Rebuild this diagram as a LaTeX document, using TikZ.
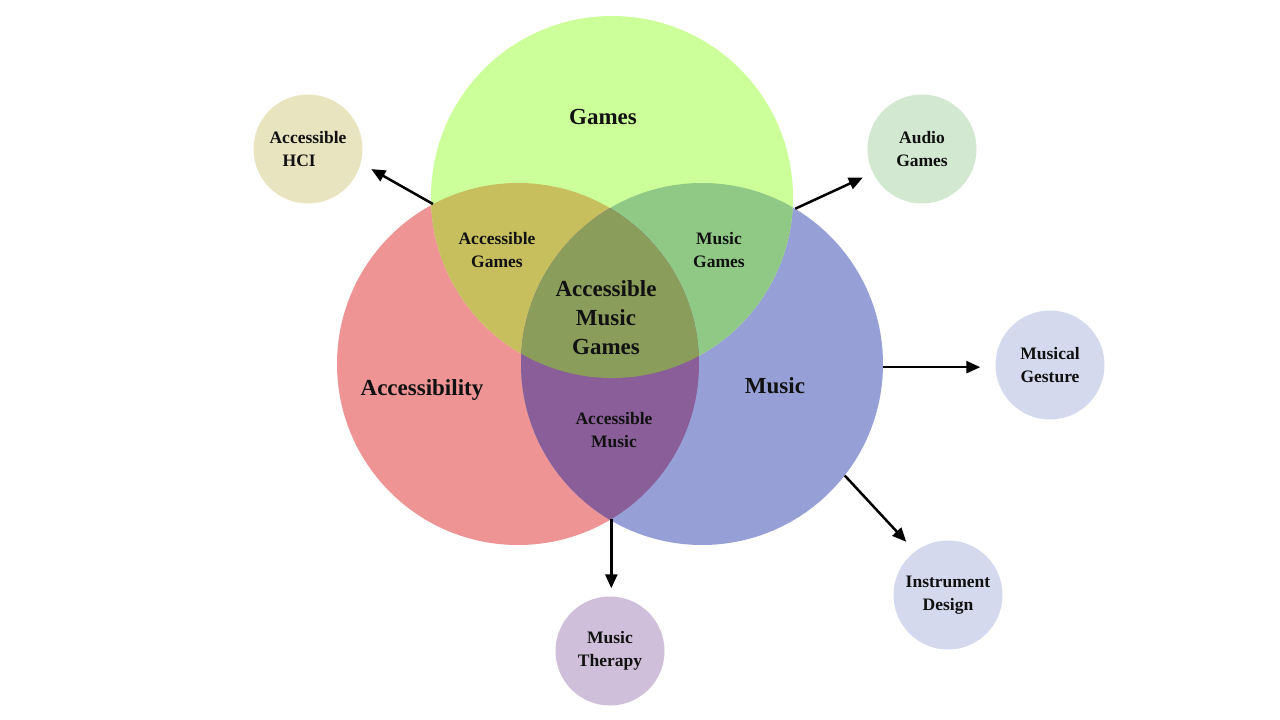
\documentclass[tikz,border=0pt]{standalone}
\usepackage{fontspec}
\setmainfont{Liberation Serif}
\usetikzlibrary{arrows.meta}
\definecolor{gamcol}{HTML}{CCFF99}
\definecolor{acccol}{HTML}{EE9494}
\definecolor{muscol}{HTML}{97A0D6}
\definecolor{agcol}{HTML}{C7BF5D}
\definecolor{mgcol}{HTML}{90C985}
\definecolor{amcol}{HTML}{8A5E98}
\definecolor{ctrcol}{HTML}{8B9D5B}
\definecolor{hcicol}{HTML}{E8E4C0}
\definecolor{audcol}{HTML}{D2E8D1}
\definecolor{gescol}{HTML}{D4D9EE}
\definecolor{thercol}{HTML}{CFBFDA}
\definecolor{txtcol}{HTML}{111111}
\begin{document}
\begin{tikzpicture}[x=1pt,y=-1pt,
  bigc/.style={circle,minimum size=362pt,inner sep=0pt,draw=none},
  smallc/.style={circle,minimum size=109pt,inner sep=0pt,draw=none,
    font=\bfseries\fontsize{17.5}{23}\selectfont,align=center,text=txtcol},
  bigt/.style={font=\bfseries\fontsize{23}{29}\selectfont,align=center,text=txtcol,inner sep=0pt},
  smallt/.style={font=\bfseries\fontsize{17.5}{23}\selectfont,align=center,text=txtcol,inner sep=0pt},
  arr/.style={line width=2.5pt,-{Triangle[length=14pt,width=12pt]}}]
\useasboundingbox (0,0) rectangle (1280,720);
\fill[white] (0,0) rectangle (1280,720);
% big circles
\node[bigc,fill=acccol] (acc) at (518,364) {};
\node[bigc,fill=muscol] (mus) at (702,364) {};
\node[bigc,fill=gamcol] (gam) at (612,197) {};
% overlaps
\begin{scope}
  \clip (612,197) circle[radius=181];
  \fill[agcol] (518,364) circle[radius=181];
  \fill[mgcol] (702,364) circle[radius=181];
\end{scope}
\begin{scope}
  \clip (518,364) circle[radius=181];
  \fill[amcol] (702,364) circle[radius=181];
\end{scope}
\begin{scope}
  \clip (518,364) circle[radius=181];
  \clip (702,364) circle[radius=181];
  \fill[ctrcol] (612,197) circle[radius=181];
\end{scope}
% labels
\node[bigt] (tgam) at (603,117) {Games};
\node[bigt] (tacc) at (422,390) {Accessibility};
\node[bigt] (tmus) at (775,386) {Music};
\node[bigt] (tamg) at (606,318) {Accessible\\Music\\Games};
\node[smallt] (tag) at (497,250) {Accessible\\Games};
\node[smallt] (tmg) at (719,250) {Music\\Games};
\node[smallt] (tam) at (614,430) {Accessible\\Music};
% small circles
\node[smallc,fill=hcicol] (hci) at (308,149) {Accessible\\HCI\hphantom{xx}};
\node[smallc,fill=audcol] (aud) at (922,149) {Audio\\Games};
\node[smallc,fill=gescol] (ges) at (1050,365) {Musical\\Gesture};
\node[smallc,fill=gescol] (ins) at (948,595) {Instrument\\Design};
\node[smallc,fill=thercol] (ther) at (610,651) {Music\\Therapy};
% arrows
\draw[arr,shorten >=12pt] (acc.118.4) -- (hci.-15.7);
\draw[arr,shorten >=11pt] (mus.59.6) -- (aud.206);
\draw[arr,shorten >=15pt] (mus.-1) -- (mus.-1 -| ges.west);
\draw[arr,shorten >=13pt] (mus.-38.7) -- (ins.127.5);
\draw[arr,shorten >=8pt] (acc.-59.1) -- (acc.-59.1 |- ther.north);
\end{tikzpicture}
\end{document}
